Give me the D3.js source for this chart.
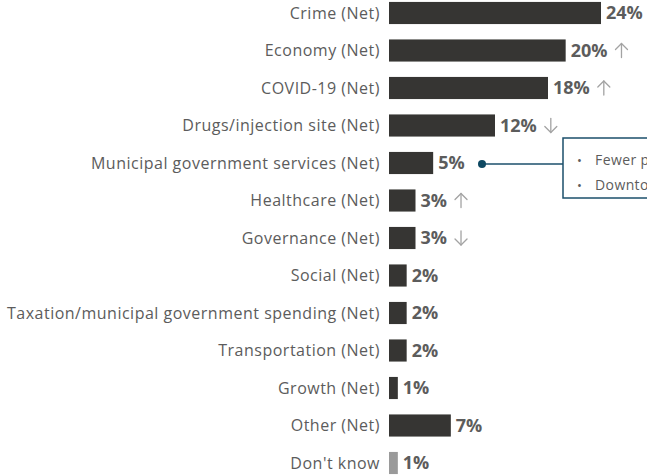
<!DOCTYPE html>
<html>
<head>
<meta charset="utf-8">
<script src="https://cdn.jsdelivr.net/npm/d3@7"></script>
<style>
  html, body { margin: 0; padding: 0; background: #fff; overflow: hidden; }
  svg { display: block; }
</style>
</head>
<body>
<svg id="chart" width="647" height="476"></svg>
<script>
// Issue categories, top to bottom
const categories = [
  "Crime (Net)",
  "Economy (Net)",
  "COVID-19 (Net)",
  "Drugs/injection site (Net)",
  "Municipal government services (Net)",
  "Healthcare (Net)",
  "Governance (Net)",
  "Social (Net)",
  "Taxation/municipal government spending (Net)",
  "Transportation (Net)",
  "Growth (Net)",
  "Other (Net)",
  "Don't know"
];

// Share of mentions (%)
const values = [24, 20, 18, 12, 5, 3, 3, 2, 2, 2, 1, 7, 1];

// Change versus the previous wave: "up", "down" or ""
const changes = ["", "up", "up", "down", "", "up", "down", "", "", "", "", "", ""];

// Verbatim highlights attached to one category
const calloutCategory = "Municipal government services (Net)";
const calloutLines = ["Fewer parking options", "Downtown cleanliness"];

const svg = d3.select("#chart");

const x = d3.scaleLinear().domain([0, 24]).range([389, 601]);
const y = d3.scaleBand()
  .domain(categories)
  .range([-5.75, 481.75])
  .paddingInner(0.41)
  .paddingOuter(0.205);

const labelFont = "'Open Sans', 'DejaVu Sans', sans-serif";
const textGrey = "#5c5c5c";
const arrowGrey = "#a3a3a3";

// Category labels
svg.append("g").selectAll("text")
  .data(categories)
  .join("text")
  .attr("x", 380)
  .attr("y", d => y(d) + y.bandwidth() / 2)
  .attr("dy", "0.35em")
  .attr("text-anchor", "end")
  .attr("font-family", labelFont)
  .attr("font-size", 16)
  .attr("letter-spacing", 0.5)
  .attr("fill", textGrey)
  .text(d => d);

// Bars
svg.append("g").selectAll("rect")
  .data(categories)
  .join("rect")
  .attr("x", x(0))
  .attr("y", d => y(d))
  .attr("width", (d, i) => x(values[i]) - x(0))
  .attr("height", y.bandwidth())
  .attr("fill", d => d === "Don't know" ? "#9a9a9a" : "#363533");

// Value labels
const vl = svg.append("g").selectAll("text")
  .data(categories)
  .join("text")
  .attr("x", (d, i) => x(values[i]) + 5)
  .attr("y", d => y(d) + y.bandwidth() / 2)
  .attr("dy", "0.36em")
  .attr("font-family", labelFont)
  .attr("font-size", 18)
  .attr("font-weight", "bold")
  .attr("fill", textGrey)
  .text((d, i) => values[i] + "%");

// Change arrows, placed right after each value label
const arrowG = svg.append("g")
  .attr("fill", "none")
  .attr("stroke", arrowGrey)
  .attr("stroke-width", 1.3)
  .attr("stroke-linecap", "round")
  .attr("stroke-linejoin", "round");

vl.each(function (d, i) {
  if (!changes[i]) return;
  const ax = x(values[i]) + 5 + this.getComputedTextLength() + 14;
  const cy = y(d) + y.bandwidth() / 2;
  const top = cy - 7, bot = cy + 7;
  const g = arrowG.append("g");
  g.append("line").attr("x1", ax).attr("x2", ax).attr("y1", top).attr("y2", bot);
  if (changes[i] === "up") {
    g.append("polyline").attr("points", `${ax - 6},${top + 6} ${ax},${top} ${ax + 6},${top + 6}`);
  } else {
    g.append("polyline").attr("points", `${ax - 6},${bot - 6} ${ax},${bot} ${ax + 6},${bot - 6}`);
  }
});

// Callout
const cy = y(calloutCategory) + y.bandwidth() / 2 + 1;
const boxX = 563, boxTop = 138, boxBottom = 198;
const teal = "#1b4f6b";

svg.append("line")
  .attr("x1", 482).attr("x2", boxX)
  .attr("y1", cy).attr("y2", cy)
  .attr("stroke", teal)
  .attr("stroke-width", 1.5);

svg.append("circle")
  .attr("cx", 482).attr("cy", cy)
  .attr("r", 4)
  .attr("fill", "#0e4862");

svg.append("rect")
  .attr("x", boxX).attr("y", boxTop)
  .attr("width", 200).attr("height", boxBottom - boxTop)
  .attr("fill", "#fff")
  .attr("stroke", teal)
  .attr("stroke-width", 1.5);

const cl = svg.append("g").selectAll("g")
  .data(calloutLines)
  .join("g")
  .attr("transform", (d, i) => `translate(0, ${160 + i * 25})`);

cl.append("text")
  .attr("x", 577)
  .attr("dy", "0.35em")
  .attr("font-family", labelFont)
  .attr("font-size", 13)
  .attr("fill", textGrey)
  .text("\u2022");

cl.append("text")
  .attr("x", 595)
  .attr("dy", "0.35em")
  .attr("font-family", labelFont)
  .attr("font-size", 14)
  .attr("letter-spacing", 0.4)
  .attr("fill", textGrey)
  .text(d => d);
</script>
</body>
</html>
